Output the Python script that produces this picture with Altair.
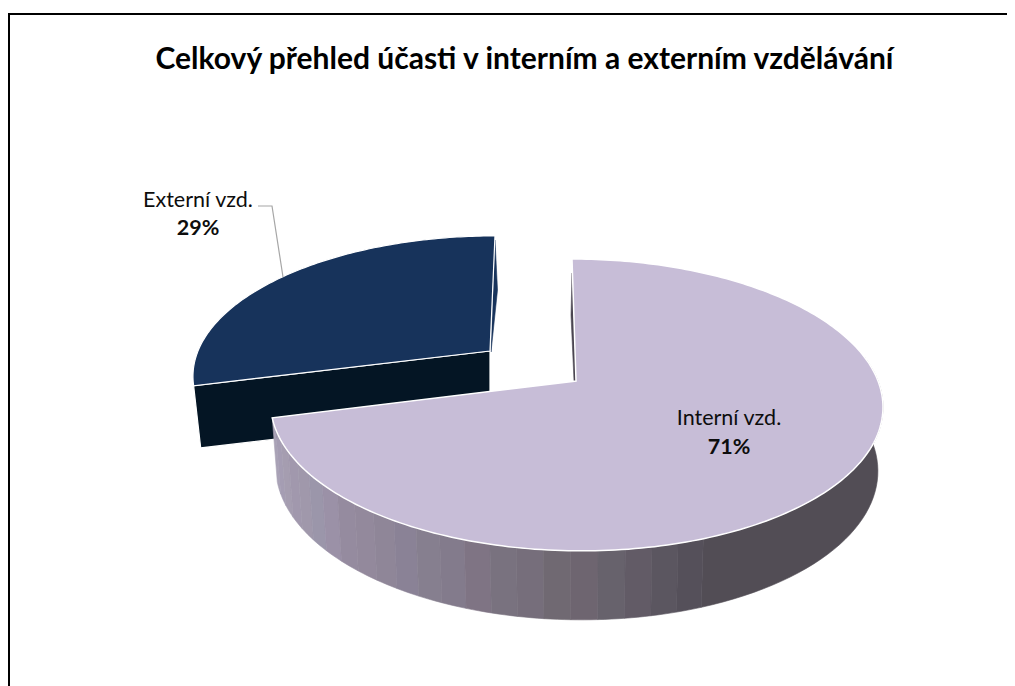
import math
import altair as alt
import pandas as pd

# Values
categories = ["Externí vzd.", "Interní vzd."]
shares = [29, 71]
percent_labels = ["29%", "71%"]
title_text = "Celkový přehled účasti v interním a externím vzdělávání"

# Shades of the outer wall of the large slice, left to right
wall_shades = [
    "#a9a2b6", "#a59db3", "#a59db0", "#a198ad", "#a098ab", "#9b96aa", "#9b91a7", "#958b9f",
    "#93899c", "#8f8698", "#8a8296", "#867f8f", "#837b8c", "#7f7484", "#79727f", "#766e7b",
    "#706972", "#6e6570", "#67626c", "#625b66", "#5b5660", "#55505a",
]
wall_flat = "#524d55"
top_colors = {"ext": "#17335b", "int": "#c7bdd7"}
face_color = "#041524"

P = 0.164  # perspective of the tilted disc


def project(angle, cx, cy, m, k, s):
    t = math.radians(angle)
    u, v = math.sin(t), -math.cos(t)
    d = 1 - P * v
    return [cx + (m * u + s * v) / d, cy + k * v / d]


INT_TOP = dict(cx=576, cy=381, m=302, k=142, s=4.66)
INT_LOW = dict(cx=576, cy=444, m=297, k=147, s=4.66)
EXT_TOP = dict(cx=490, cy=351, m=292, k=134, s=-5.8)
EXT_LOW = dict(cx=490, cy=414, m=285, k=131, s=-5.8)

split = 360 * shares[1] / sum(shares)


def arc(a0, a1, ring, n=120):
    return [project(a0 + (a1 - a0) * i / n, **ring) for i in range(n + 1)]


def feat(points, fill, stroke=None, sw=0.6):
    ring = points + [points[0]]
    return {
        "type": "Feature",
        "geometry": {"type": "Polygon", "coordinates": [ring]},
        "properties": {"fill": fill, "stroke": stroke or fill, "sw": sw},
    }


features = []

# Small slice: inner sliver, front face, top
features.append(feat([[495, 240], [497.5, 290], [491, 352]], top_colors["ext"]))
e_end = project(split, **EXT_TOP)
e_low = project(split, **EXT_LOW)
features.append(feat([[EXT_TOP["cx"], EXT_TOP["cy"]], e_end, e_low, [EXT_LOW["cx"], EXT_LOW["cy"]]], face_color, "#ffffff", 1.2))
features.append(feat([[EXT_TOP["cx"], EXT_TOP["cy"]]] + arc(split, 360, EXT_TOP), top_colors["ext"], "#ffffff", 1.2))

# Large slice: inner sliver, outer wall strips, top
features.append(feat([[572, 273], [571, 315], [574, 381], [576.5, 381]], "#4a4550"))
flat_end = 160.0
features.append(feat(arc(80, flat_end, INT_TOP, 40) + arc(flat_end, 80, INT_LOW, 40), wall_flat))
step = (split - flat_end) / len(wall_shades)
for i, shade in enumerate(wall_shades):
    a1 = split - i * step
    a0 = a1 - step
    features.append(feat(arc(a0, a1, INT_TOP, 4) + arc(a1, a0, INT_LOW, 4), shade))
features.append(feat([[INT_TOP["cx"], INT_TOP["cy"]]] + arc(0, split, INT_TOP, 240), top_colors["int"], "#ffffff", 1.5))

disc = (
    alt.Chart(alt.InlineData(values={"type": "FeatureCollection", "features": features},
                             format=alt.DataFormat(property="features", type="json")))
    .mark_geoshape()
    .encode(
        fill=alt.Fill("properties.fill:N", scale=None),
        stroke=alt.Stroke("properties.stroke:N", scale=None),
        strokeWidth=alt.StrokeWidth("properties.sw:Q", scale=None),
    )
    .project(type="identity", scale=1, translate=[-8, -8])
)

X = alt.Scale(domain=[8, 1007], range=[0, 999])
Y = alt.Scale(domain=[8, 686], range=[0, 678])
xq = lambda f: alt.X(f, type="quantitative", scale=X, axis=None)
yq = lambda f: alt.Y(f, type="quantitative", scale=Y, axis=None)

labels = pd.DataFrame({
    "x": [198, 729],
    "y1": [201, 419],
    "y2": [229, 448],
    "name": categories,
    "pct": percent_labels,
})
name_text = alt.Chart(labels).mark_text(font="Lato", fontSize=21.5, color="#0d0d0d", align="center", baseline="middle").encode(
    x=xq("x"), y=yq("y1"), text="name:N")
pct_text = alt.Chart(labels).mark_text(font="Lato", fontSize=21.5, fontWeight="bold", color="#0d0d0d", align="center", baseline="middle").encode(
    x=xq("x"), y=yq("y2"), text="pct:N")
title_mark = alt.Chart(pd.DataFrame({"x": [524.5], "y": [60], "t": [title_text]})).mark_text(
    font="Lato", fontSize=30, fontWeight="bold", color="#000000", align="center", baseline="middle").encode(
    x=xq("x"), y=yq("y"), text="t:N")

leader = alt.Chart(pd.DataFrame({"x": [258, 272, 283], "y": [206, 206, 277], "o": [0, 1, 2]})).mark_line(
    color="#a6a6a6", strokeWidth=1.2).encode(x=xq("x"), y=yq("y"), order="o:Q")

border_top = alt.Chart(pd.DataFrame({"x": [8], "x2": [1007], "y": [14]})).mark_rule(color="#000000", strokeWidth=2).encode(
    x=xq("x"), x2="x2:Q", y=yq("y"))
border_left = alt.Chart(pd.DataFrame({"x": [9], "y": [13], "y2": [686]})).mark_rule(color="#000000", strokeWidth=2).encode(
    x=xq("x"), y=yq("y"), y2="y2:Q")

chart = (
    alt.layer(border_top, border_left, disc, leader, title_mark, name_text, pct_text)
    .properties(width=999, height=678, padding=0, autosize=alt.AutoSizeParams(type="none"))
    .configure_view(stroke=None)
)
chart.save("out.html", embed_options={"renderer": "svg", "actions": False})
